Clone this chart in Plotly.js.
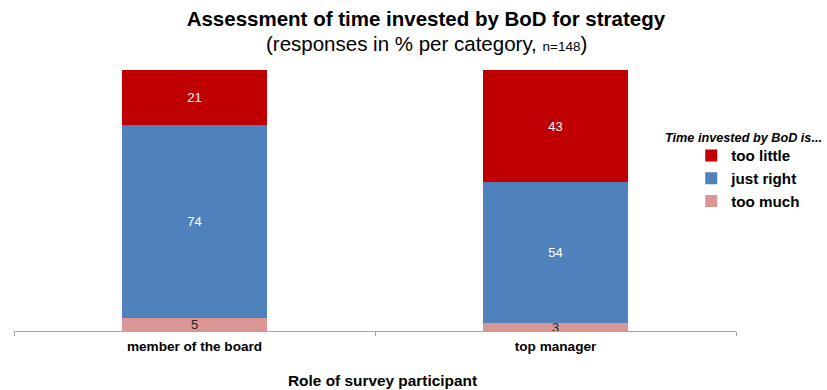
<!DOCTYPE html>
<html>
<head>
<meta charset="utf-8">
<script src="https://cdn.plot.ly/plotly-3.0.1.min.js"></script>
<style>html,body{margin:0;padding:0;background:#fff;}#chart{width:827px;height:390px;}</style>
</head>
<body>
<div id="chart"></div>
<script>
const categories = ["member of the board", "top manager"];
const tooMuch = [5, 3];
const justRight = [74, 54];
const tooLittle = [21, 43];
const seriesNames = ["too much", "just right", "too little"];
const colors = ["#D99694", "#4F81BD", "#C00000"];
const textColors = ["#262626", "#ffffff", "#ffffff"];
const FONT = "Arial, 'Liberation Sans', sans-serif";

const values = [tooMuch, justRight, tooLittle];
const traces = values.map((v, i) => ({
  type: "bar",
  name: seriesNames[i],
  x: categories,
  y: v,
  text: v.map(String),
  textposition: "inside",
  insidetextanchor: "middle",
  textangle: 0,
  constraintext: "none",
  textfont: {family: FONT, size: 13, color: textColors[i]},
  marker: {color: colors[i], line: {width: 0}},
  hoverinfo: "skip"
}));

const layout = {
  width: 827, height: 390,
  margin: {l: 14, r: 91, t: 70, b: 59},
  paper_bgcolor: "#fff", plot_bgcolor: "#fff",
  barmode: "stack",
  bargap: 0.6,
  font: {family: FONT, color: "#000"},
  title: {
    text: "Assessment of time invested by BoD for strategy",
    font: {family: FONT, size: 20.5, weight: "bold", color: "#000"},
    xref: "container", x: 0.515, xanchor: "center", y: 0.952, yanchor: "middle"
  },
  annotations: [
    {text: "(responses in % per category, <span style='font-size:13.5px'>n=148</span>)",
     xref: "paper", yref: "paper", x: 0.571, y: 1.103, xanchor: "center", yanchor: "middle",
     showarrow: false, font: {family: FONT, size: 20.5, color: "#000"}},
    {text: "Time invested by BoD is...",
     xref: "paper", yref: "paper", x: 1.122, y: 0.739, xanchor: "right", yanchor: "middle",
     showarrow: false, font: {family: FONT, size: 12.7, color: "#000", weight: "bold", style: "italic"}},
    {text: "Role of survey participant",
     xref: "paper", yref: "paper", x: 0.51, y: -0.188, xanchor: "center", yanchor: "middle",
     showarrow: false, font: {family: FONT, size: 15.4, color: "#000", weight: "bold"}}
  ],
  xaxis: {
    type: "category",
    showline: true, linecolor: "#a6a6a6", linewidth: 1,
    ticks: "outside", tickson: "boundaries", ticklen: 4, tickcolor: "#a6a6a6",
    ticklabelstandoff: 3,
    tickfont: {family: FONT, size: 13.6, weight: "bold", color: "#000"},
    showgrid: false, zeroline: false
  },
  yaxis: {range: [0, 100], visible: false, showgrid: false, zeroline: false, fixedrange: true},
  showlegend: true,
  legend: {
    x: 0.938, y: 0.735, xanchor: "left", yanchor: "top",
    traceorder: "reversed",
    font: {family: FONT, size: 15.2, weight: "bold", color: "#000"},
    bgcolor: "rgba(0,0,0,0)", itemwidth: 30
  }
};

Plotly.newPlot("chart", traces, layout, {displayModeBar: false, staticPlot: true});
</script>
</body>
</html>
